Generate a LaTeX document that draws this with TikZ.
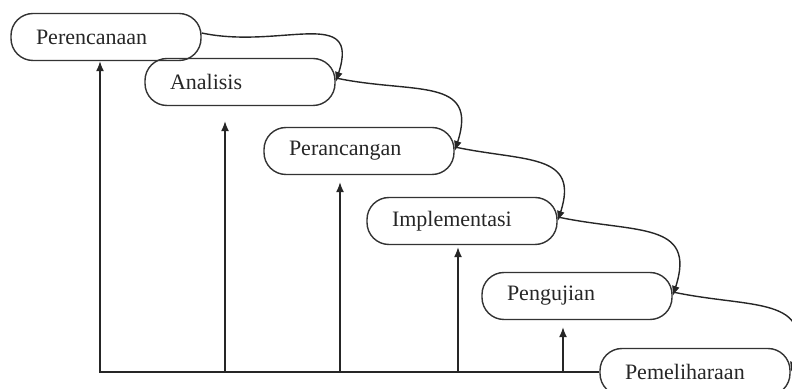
\documentclass[tikz,border=0pt]{standalone}
\usepackage{fontspec}
\setmainfont{Liberation Serif}
\usetikzlibrary{arrows.meta}
\tikzset{
  every picture/.style={line width=0.7pt, draw=black!85},
  stage/.style={draw=black!80, rounded corners=11pt, text width=70pt, inner xsep=12.5pt,
    minimum height=23.5pt, align=left, text=black!85, font=\fontsize{11}{13}\selectfont},
  arrow/.style={-{Latex[length=5pt, width=4pt]}, draw=black!85, line width=0.7pt},
}
\begin{document}
\begin{tikzpicture}[x=0.5pt, y=-0.5pt]
  \useasboundingbox (0,0) rectangle (792,389);
  % stages of the waterfall
  \foreach \X/\Y/\n/\t in {106/37/ren/Perencanaan, 240/82/ana/Analisis,
     359/151/ran/Perancangan, 462/221/imp/Implementasi,
     577/296/uji/Pengujian, 695/372/pel/Pemeliharaan}
    \node[stage] (\n) at (\X,\Y) {\t};
  % forward flow
  \foreach \a/\b in {ren/ana, ana/ran, ran/imp, imp/uji, uji/pel}
    \draw[arrow] ([yshift=2pt]\a.east) to[out=-12, in=72, looseness=1.45] (\b.east);
  % feedback from maintenance
  \draw[arrow] (pel.west) -| ([xshift=-3pt]ren.south);
  \foreach \n/\dx/\gap in {ana/-7.5/7.5, ran/-9.5/3.5, imp/-2/1, uji/-7/3.5} {
    \coordinate (tip) at ([xshift=\dx pt, yshift=-\gap pt]\n.south);
    \draw[arrow] (pel.west -| tip) -- (tip);
  }
\end{tikzpicture}
\end{document}
